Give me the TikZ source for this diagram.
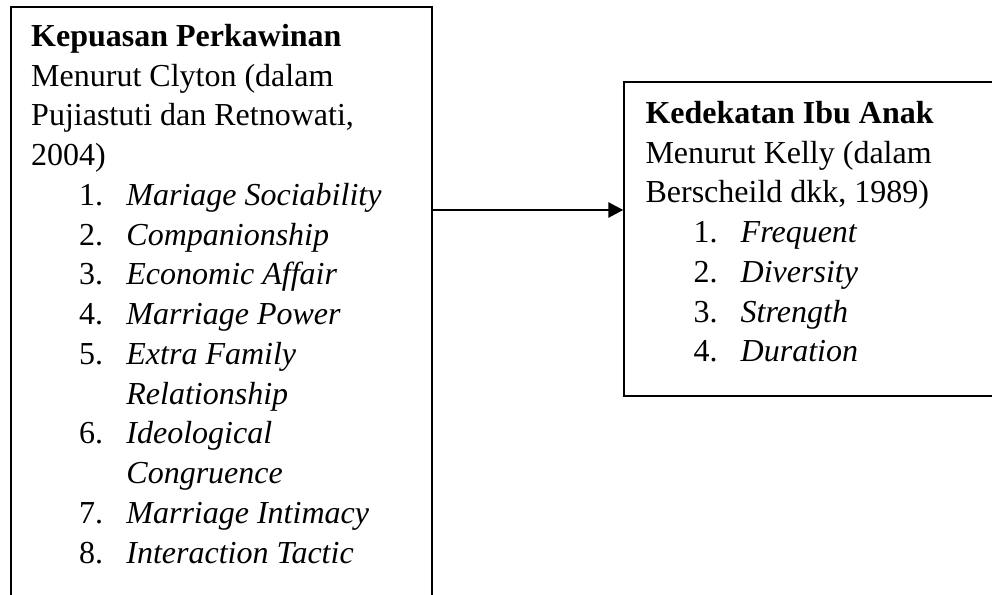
\documentclass[tikz,border=0pt]{standalone}
\usepackage{fontspec}
\setmainfont{Liberation Serif}
\usetikzlibrary{arrows.meta,fit}

\tikzset{
  kotak/.style={draw, line width=0.5pt, inner sep=0pt},
  isi/.style={align=left, anchor=north west, inner sep=0pt, font=\fontsize{12}{14.9}\selectfont},
  panah/.style={line width=1pt, -{Triangle[length=5.6pt,width=5.6pt]}}
}
\newcommand{\butir}[2]{\hspace*{18pt}\makebox[17.7pt][l]{#1.}\textit{#2}}
\newcommand{\lanjut}[1]{\hspace*{35.7pt}\textit{#1}}

\begin{document}
\begin{tikzpicture}[x=0.375pt,y=0.375pt]
\useasboundingbox (0,0) rectangle (992,-595);
\clip (0,0) rectangle (992,-595);

% Left box (runs past the bottom edge)
\node[kotak, fit={(11,-7) (432,-640)}] (kepuasan) {};
\node[isi] (kepuasanisi) at (30.7,-19.3) {\rule{0pt}{10pt}\textbf{Kepuasan Perkawinan}\\
  Menurut Clyton (dalam\\
  Pujiastuti dan Retnowati,\\
  2004)\\
  \butir{1}{Mariage Sociability}\\
  \butir{2}{Companionship}\\
  \butir{3}{Economic Affair}\\
  \butir{4}{Marriage Power}\\
  \butir{5}{Extra Family}\\
  \lanjut{Relationship}\\
  \butir{6}{Ideological}\\
  \lanjut{Congruence}\\
  \butir{7}{Marriage Intimacy}\\
  \butir{8}{Interaction Tactic}};

% Right box (runs past the right edge)
\node[kotak, fit={(624,-82) (1020,-396)}] (kedekatan) {};
\node[isi] (kedekatanisi) at (645,-96.3) {\rule{0pt}{10pt}\textbf{Kedekatan Ibu Anak}\\
  Menurut Kelly (dalam\\
  Berscheild dkk, 1989)\\
  \butir{1}{Frequent}\\
  \butir{2}{Diversity}\\
  \butir{3}{Strength}\\
  \butir{4}{Duration}};

% Arrow
\coordinate (panahy) at (0,-210);
\draw[panah] (kepuasan.east |- panahy) -- (kedekatan.west |- panahy);

\end{tikzpicture}
\end{document}
